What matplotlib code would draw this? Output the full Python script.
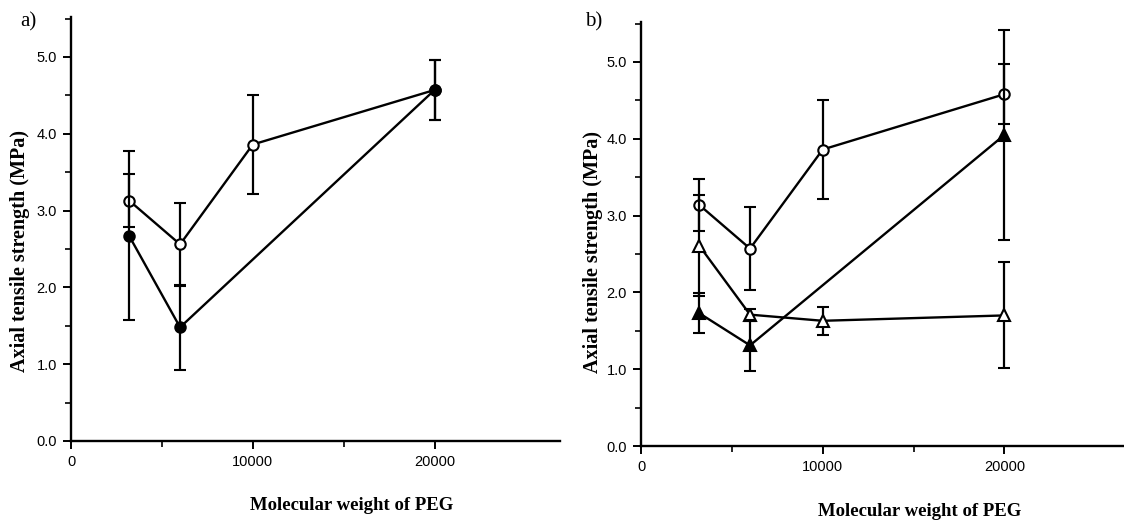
import numpy as np
import matplotlib
matplotlib.use('Agg')
import matplotlib.pyplot as plt
from matplotlib.ticker import MultipleLocator, FixedLocator

# PEG molecular weights
mw = [3200, 6000, 10000, 20000]
mw_short = [3200, 6000, 20000]

# panel a
a_open = [3.13, 2.56, 3.86, 4.57]
a_open_err = [0.34, 0.54, 0.65, 0.39]
a_filled = [2.67, 1.48, 4.57]
a_filled_err = [1.10, 0.55, 0.39]

# panel b
b_circle = [3.14, 2.57, 3.86, 4.58]
b_circle_err = [0.34, 0.54, 0.65, 0.39]
b_tri_open = [2.61, 1.71, 1.63, 1.70]
b_tri_open_err = [0.66, 0.08, 0.18, 0.69]
b_tri_filled = [1.73, 1.31, 4.05]
b_tri_filled_err = [0.26, 0.33, 1.37]

y_ticks = [0.0, 1.0, 2.0, 3.0, 4.0, 5.0]
x_ticks = [0, 10000, 20000]

SERIF = 'Liberation Serif'
SANS = 'Liberation Sans'

W, H = 1124, 525
fig = plt.figure(figsize=(W / 100, H / 100), dpi=100)


def px_axes(left, bottom, right, top):
    return fig.add_axes([left / W, 1 - bottom / H, (right - left) / W, (bottom - top) / H])


def series(ax, x, y, err, marker, filled, ms, z):
    ax.errorbar(x, y, yerr=err, color='black', lw=1.7, elinewidth=1.6,
                capsize=4, capthick=1.6, marker=marker, ms=ms,
                mfc='black' if filled else 'white', mec='black', mew=1.5,
                zorder=z, clip_on=False)


def style(ax, xmax):
    ax.set_xlim(0, xmax)
    ax.set_ylim(0, 5.52)
    for s in ['top', 'right']:
        ax.spines[s].set_visible(False)
    for s in ['left', 'bottom']:
        ax.spines[s].set_linewidth(1.7)
    ax.yaxis.set_major_locator(FixedLocator(y_ticks))
    ax.yaxis.set_minor_locator(MultipleLocator(0.5))
    ax.xaxis.set_major_locator(FixedLocator(x_ticks))
    ax.xaxis.set_minor_locator(FixedLocator([5000, 15000]))
    ax.set_yticklabels(['%.1f' % v for v in y_ticks])
    ax.set_xticklabels([str(v) for v in x_ticks])
    ax.tick_params(which='major', direction='out', length=6, width=1.4, pad=4,
                   labelsize=10.5)
    ax.tick_params(which='minor', direction='out', length=4, width=1.2)
    for lab in ax.get_xticklabels() + ax.get_yticklabels():
        lab.set_fontfamily(SANS)


# a)
ax1 = px_axes(71, 441, 560, 17)
series(ax1, mw, a_open, a_open_err, 'o', False, 7.5, 3)
series(ax1, mw_short, a_filled, a_filled_err, 'o', True, 7.5, 4)
style(ax1, 26900)

# b)
ax2 = px_axes(641, 446, 1124, 22)
series(ax2, mw, b_circle, b_circle_err, 'o', False, 7.5, 3)
series(ax2, mw, b_tri_open, b_tri_open_err, '^', False, 8.5, 4)
series(ax2, mw_short, b_tri_filled, b_tri_filled_err, '^', True, 8.5, 5)
style(ax2, 26580)

ylab = 'Axial tensile strength (MPa)'
fig.text(20 / W, 1 - 251 / H, ylab, rotation=90, ha='center', va='center',
         fontsize=14.5, fontweight='bold', family=SERIF)
fig.text(593 / W, 1 - 252 / H, ylab, rotation=90, ha='center', va='center',
         fontsize=14.5, fontweight='bold', family=SERIF)

fig.text(352 / W, 1 - 505 / H, 'Molecular weight of PEG', ha='center', va='center',
         fontsize=13.5, fontweight='bold', family=SERIF)
fig.text(920 / W, 1 - 511 / H, 'Molecular weight of PEG', ha='center', va='center',
         fontsize=13.5, fontweight='bold', family=SERIF)

fig.text(28 / W, 1 - 22 / H, 'a)', ha='center', va='center', fontsize=15, family=SERIF)
fig.text(594 / W, 1 - 22 / H, 'b)', ha='center', va='center', fontsize=15, family=SERIF)

plt.savefig('out.png', dpi=100)
